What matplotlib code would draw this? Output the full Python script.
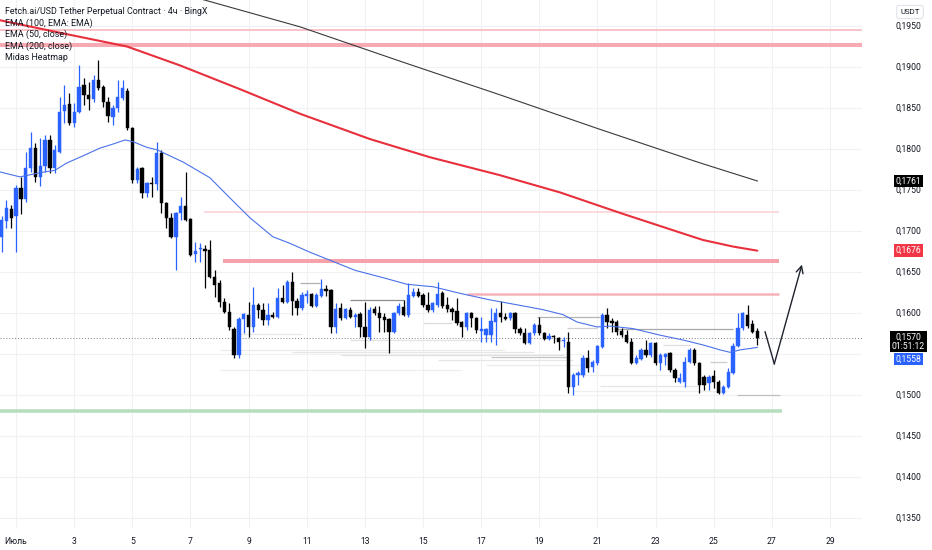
import matplotlib
matplotlib.use("Agg")
import matplotlib.pyplot as plt
from matplotlib.transforms import blended_transform_factory
from matplotlib import font_manager

# ---------------- data (4h candles, first candle = 30 Jun 12:00) ----------------
opens = [.1693, .1712, .1727, .1718, .1752, .1739, .1777, .1801, .1766, .1779,
         .1811, .1777, .1796, .1846, .1855, .1832, .1845, .1878, .1866, .1861,
         .1884, .1876, .1857, .1839, .1850, .1862, .1871, .1826, .1762, .1777,
         .1746, .1759, .1757, .1795, .1734, .1716, .1693, .1722, .1731, .1715,
         .1672, .1678, .1678, .1677, .1644, .1637, .1613, .1601, .1581, .1549,
         .1593, .1598, .1583, .1610, .1604, .1592, .1598, .1595, .1618, .1613,
         .1638, .1615, .1606, .1621, .1623, .1609, .1621, .1629, .1628, .1583,
         .1606, .1594, .1604, .1595, .1599, .1583, .1571, .1605, .1600, .1595,
         .1593, .1577, .1600, .1607, .1598, .1621, .1626, .1622, .1610, .1604,
         .1610, .1624, .1610, .1605, .1602, .1589, .1583, .1600, .1594, .1578,
         .1573, .1573, .1589, .1600, .1595, .1594, .1600, .1581, .1576, .1563,
         .1576, .1585, .1576, .1568, .1572, .1570, .1566, .1565, .1510, .1524,
         .1524, .1545, .1534, .1539, .1559, .1598, .1590, .1589, .1578, .1573,
         .1565, .1539, .1544, .1555, .1549, .1563, .1539, .1546, .1551, .1531,
         .1516, .1516, .1540, .1555, .1539, .1522, .1515, .1523, .1516, .1502,
         .1510, .1527, .1560, .1582, .1598, .1587, .1578]
highs = [.1718, .1738, .1732, .1756, .1766, .1796, .1821, .1807, .1813, .1817,
         .1817, .1805, .1863, .1878, .1868, .1856, .1902, .1887, .1882, .1890,
         .1909, .1878, .1863, .1854, .1884, .1884, .1874, .1827, .1778, .1778,
         .1760, .1766, .1809, .1799, .1735, .1722, .1723, .1742, .1772, .1716,
         .1687, .1685, .1683, .1689, .1652, .1640, .1618, .1612, .1583, .1595,
         .1600, .1613, .1632, .1612, .1612, .1612, .1601, .1631, .1634, .1640,
         .1650, .1618, .1626, .1628, .1624, .1624, .1642, .1634, .1629, .1612,
         .1612, .1606, .1607, .1600, .1601, .1613, .1607, .1609, .1609, .1600,
         .1594, .1601, .1612, .1616, .1637, .1631, .1631, .1624, .1626, .1613,
         .1638, .1627, .1620, .1607, .1618, .1590, .1601, .1601, .1595, .1595,
         .1582, .1606, .1606, .1615, .1600, .1601, .1601, .1583, .1582, .1577,
         .1588, .1595, .1577, .1576, .1573, .1571, .1571, .1577, .1527, .1529,
         .1549, .1555, .1543, .1561, .1600, .1606, .1594, .1592, .1582, .1579,
         .1570, .1549, .1557, .1567, .1565, .1565, .1551, .1551, .1552, .1533,
         .1527, .1546, .1557, .1557, .1540, .1524, .1524, .1531, .1518, .1512,
         .1533, .1563, .1600, .1601, .1610, .1592, .1582]
lows = [.1674, .1704, .1704, .1674, .1721, .1735, .1772, .1760, .1755, .1772,
        .1771, .1771, .1795, .1832, .1829, .1827, .1844, .1854, .1848, .1857,
        .1872, .1851, .1833, .1829, .1845, .1860, .1823, .1759, .1759, .1740,
        .1742, .1742, .1750, .1722, .1704, .1692, .1652, .1713, .1712, .1670,
        .1662, .1662, .1631, .1643, .1620, .1607, .1600, .1579, .1545, .1545,
        .1576, .1571, .1577, .1594, .1585, .1585, .1594, .1594, .1612, .1612,
        .1598, .1598, .1604, .1612, .1607, .1607, .1620, .1621, .1576, .1576,
        .1592, .1593, .1594, .1583, .1571, .1557, .1567, .1598, .1577, .1577,
        .1551, .1576, .1598, .1596, .1595, .1620, .1620, .1607, .1601, .1601,
        .1607, .1606, .1601, .1592, .1585, .1571, .1579, .1583, .1576, .1565,
        .1565, .1565, .1561, .1589, .1592, .1592, .1576, .1573, .1562, .1562,
        .1573, .1573, .1567, .1567, .1563, .1555, .1559, .1502, .1500, .1512,
        .1522, .1528, .1528, .1537, .1557, .1582, .1577, .1573, .1571, .1563,
        .1538, .1538, .1543, .1546, .1546, .1537, .1531, .1537, .1528, .1516,
        .1515, .1510, .1539, .1537, .1502, .1506, .1506, .1509, .1501, .1501,
        .1509, .1526, .1559, .1579, .1582, .1576, .1561]
closes = [.1713, .1728, .1716, .1752, .1739, .1777, .1801, .1766, .1779, .1811,
          .1777, .1799, .1845, .1854, .1832, .1845, .1876, .1866, .1861, .1884,
          .1874, .1857, .1840, .1850, .1863, .1874, .1826, .1762, .1776, .1746,
          .1759, .1757, .1795, .1734, .1716, .1693, .1722, .1731, .1713, .1671,
          .1676, .1679, .1676, .1644, .1634, .1613, .1601, .1583, .1549, .1593,
          .1599, .1583, .1610, .1604, .1592, .1598, .1595, .1618, .1613, .1638,
          .1615, .1606, .1622, .1623, .1609, .1622, .1629, .1627, .1583, .1605,
          .1594, .1605, .1595, .1598, .1583, .1571, .1604, .1600, .1594, .1592,
          .1577, .1600, .1609, .1598, .1622, .1626, .1621, .1610, .1604, .1612,
          .1623, .1609, .1605, .1601, .1588, .1583, .1600, .1594, .1579, .1581,
          .1581, .1590, .1600, .1595, .1593, .1600, .1581, .1576, .1563, .1576,
          .1585, .1576, .1568, .1572, .1571, .1565, .1567, .1510, .1524, .1527,
          .1545, .1533, .1540, .1560, .1598, .1589, .1588, .1577, .1573, .1565,
          .1539, .1545, .1555, .1549, .1563, .1539, .1549, .1550, .1531, .1521,
          .1521, .1540, .1555, .1539, .1512, .1512, .1522, .1516, .1502, .1510,
          .1528, .1560, .1582, .1600, .1584, .1577, .1570]

# moving averages (candle index, price)
ema50_x = [-0.3, 3.8, 7.9, 11.0, 13.5, 16.2, 20.3, 23.0, 25.5, 27.1, 30.0, 32.1, 37.5,
           43.0, 47.2, 51.3, 56.0, 59.5, 63.7, 73.0, 78.8, 83.7, 89.1, 94.6, 100.8,
           106.4, 111.8, 115.9, 118.8, 122.9, 125.6, 130.3, 135.9, 140.7, 144.8,
           148.3, 150.4, 152.4, 156]
ema50_v = [.1772, .1766, .1771, .1774, .1783, .1790, .1801, .1806, .1811, .1809, .1802,
           .1799, .1784, .1765, .1740, .1716, .1693, .1685, .1674, .1652, .1643, .1635,
           .1632, .1624, .1616, .1610, .1604, .1598, .1589, .1583, .1584, .1581, .1573,
           .1567, .1561, .1555, .1552, .1555, .1558]
ema100_x = [-0.3, 13.5, 25.9, 36.8, 49.2, 61.6, 76.1, 88.4, 102.9, 115.3, 127.7, 140.1,
            144.8, 151.0, 156]
ema100_v = [.1957, .1940, .1925, .1902, .1873, .1843, .1812, .1790, .1768, .1747, .1722,
            .1698, .1689, .1681, .1676]
ema200_x = [39.9, 61.6, 82.3, 102.9, 123.5, 144.2, 156]
ema200_v = [.1985, .1949, .1907, .1866, .1824, .1783, .1761]

# Midas heatmap zones: (price, start index, end index)
zone_prices = [.1945, .1927, .1723, .1663, .1623]
zone_start = [-0.31, -0.31, 41.8, 45.7, 96.1]
zone_end = [177.6, 177.6, 160.5, 160.5, 160.5]
support_price = .1480
support_end = 161.1
heat_prices = [.1637, .1616, .1595, .1582, .1581, .1588, .1567, .1546, .1561, .1540,
               .1511, .1500, .1574, .1555, .1552, .1549, .1543, .1536, .1530, .1524, .1505]
heat_start = [61.6, 72, 110.5, 116.7, 127, 87, 72, 101, 136.5, 146.2,
              123.5, 151.8, 49, 45, 60, 70, 90, 100, 45, 118, 118]
heat_end = [65.7, 83, 123.5, 122.9, 151, 93, 99, 117, 142, 149.7,
            144, 160.7, 62, 104, 110, 116, 118, 120, 95, 140, 150]
heat_shade = ['#b0b0b0', '#8c8c8c', '#b5b5b5', '#d0d0d0', '#a8a8a8', '#dddddd', '#e2e2e2',
              '#c4c4c4', '#dddddd', '#cccccc', '#e5e5e5', '#c0c0c0', '#e8e8e8', '#ebebeb',
              '#e6e6e6', '#e0e0e0', '#e6e6e6', '#ececec', '#efefef', '#ececec', '#eeeeee']

last_price = .1570
countdown = '01:51:12'
arrow_x = [157.6, 159.5, 165.2]
arrow_y = [.1577, .1538, .1659]

price_ticks = [.1350, .1400, .1450, .1500, .1550, .1600, .1650, .1700, .1750, .1800,
               .1850, .1900, .1950]
hidden_ticks = [.1550]  # covered by the price tags in the reference
date_days = [1, 3, 5, 7, 9, 11, 13, 15, 17, 19, 21, 23, 25, 27, 29]
date_labels = ['Июль', '3', '5', '7', '9', '11', '13', '15', '17', '19', '21', '23',
               '25', '27', '29']
legend_lines = ['Fetch.ai/USD Tether Perpetual Contract · 4ч · BingX',
                'EMA (100, EMA: EMA)', 'EMA (50, close)', 'EMA (200, close)',
                'Midas Heatmap']

# ---------------- figure ----------------
names = {f.name for f in font_manager.fontManager.ttflist}
narrow = 'Liberation Sans Narrow' if 'Liberation Sans Narrow' in names else 'Roboto'
plt.rcParams['font.family'] = [narrow, 'Noto Sans', 'DejaVu Sans']
FS = 7.0 if narrow == 'Liberation Sans Narrow' else 6.2
W, H = 932, 550
TXT = '#131722'
BLUE = '#2962ff'
fig = plt.figure(figsize=(W / 100, H / 100), dpi=100)
fig.patch.set_facecolor('white')
ax = fig.add_axes([0, 22 / H, 862 / W, 528 / H])
XMIN, XMAX = -0.31, 177.6
YMIN, YMAX = 0.13378, 0.19817
ax.set_xlim(XMIN, XMAX)
ax.set_ylim(YMIN, YMAX)
ax.set_facecolor('white')
for s in ax.spines.values():
    s.set_visible(False)
ax.set_xticks([])
ax.set_yticks([])

# grid
date_pos = [3 + 6 * (d - 1) for d in date_days]
for p in price_ticks:
    ax.axhline(p, color='#f0f1f4', lw=0.8, zorder=0)
for xp in date_pos:
    ax.axvline(xp, color='#f0f1f4', lw=0.8, zorder=0)

# heatmap lines
for p, a, b, c in zip(heat_prices, heat_start, heat_end, heat_shade):
    ax.hlines(p, a, b, color=c, lw=0.9, zorder=1)

# zones
zone_lw = [1.4, 2.9, 1.1, 2.9, 1.8]
zone_col = ['#f9c3c8', '#f7aab1', '#fbd0d5', '#f5a2aa', '#f7b3b9']
for p, a, b, lw, c in zip(zone_prices, zone_start, zone_end, zone_lw, zone_col):
    ax.hlines(p, a, b, color=c, lw=lw, zorder=1)
ax.hlines(support_price, XMIN, support_end, color='#b7dfbf', lw=2.6, zorder=1)

# last price dotted line
ax.axhline(last_price, color='#7a7d85', lw=0.7, ls=(0, (1, 2)), zorder=2)

# EMAs
ax.plot(ema100_x, ema100_v, color='#e8303d', lw=1.5, zorder=3, solid_capstyle='round')
ax.plot(ema200_x, ema200_v, color='#3a3a3a', lw=0.8, zorder=3)
ax.plot(ema50_x, ema50_v, color='#4a72e8', lw=0.8, zorder=5)

# candles
n = len(opens)
idx = list(range(n))
cols = [BLUE if c >= o else '#000000' for o, c in zip(opens, closes)]
ax.vlines(idx, lows, highs, colors=cols, lw=0.9, zorder=4)
bottoms = [min(o, c) for o, c in zip(opens, closes)]
heights = [max(abs(c - o), 0.00013) for o, c in zip(opens, closes)]
ax.bar(idx, heights, bottom=bottoms, width=0.68, color=cols, edgecolor=cols,
       linewidth=0.3, zorder=4)

# projection arrow
ax.plot(arrow_x[:2], arrow_y[:2], color='#1e222d', lw=1.0, zorder=6)
ax.annotate('', xy=(arrow_x[2], arrow_y[2]), xytext=(arrow_x[1], arrow_y[1]),
            arrowprops=dict(arrowstyle='->,head_length=0.5,head_width=0.25',
                            color='#1e222d', lw=1.0, shrinkA=0, shrinkB=0), zorder=6)

# legend text
for k, t in enumerate(legend_lines):
    ax.text(5 / 862, 1 - (11.5 + 11.5 * k) / 528, t, transform=ax.transAxes,
            fontsize=FS + 0.2, color=TXT, va='center', ha='left', zorder=10)

# date labels
trans = blended_transform_factory(ax.transData, ax.transAxes)
for xp, lab in zip(date_pos, date_labels):
    ax.text(xp, -13 / 528, lab, transform=trans, ha='center', va='center',
            fontsize=FS, color=TXT, clip_on=False)

# price scale
axr = fig.add_axes([862 / W, 22 / H, 70 / W, 528 / H])
axr.set_xlim(0, 70)
axr.set_ylim(YMIN, YMAX)
axr.axis('off')
for p in price_ticks:
    if p in hidden_ticks:
        continue
    axr.text(46.5, p, ('%.4f' % p).replace('.', ','), ha='center', va='center',
             fontsize=FS, color=TXT)


def fmt(v):
    return ('%.4f' % v).replace('.', ',')


def tag(y, txt, fc):
    axr.text(46.5, y, txt, ha='center', va='center', fontsize=FS, color='white',
             zorder=10, linespacing=1.0,
             bbox=dict(boxstyle='square,pad=0.2', fc=fc, ec='none'))


px = (YMAX - YMIN) / 528.0  # price per pixel, used only to stack the price tags
tag(ema200_v[-1], fmt(ema200_v[-1]), '#000000')
tag(ema100_v[-1], fmt(ema100_v[-1]), '#f23645')
tag(last_price - 4.0 * px, fmt(last_price) + '\n' + countdown, '#000000')
tag(last_price - 21.5 * px, fmt(ema50_v[-1]), BLUE)

fig.text(910 / W, 1 - 12 / H, 'USDT', ha='center', va='center', fontsize=FS - 0.5,
         color=TXT,
         bbox=dict(boxstyle='round,pad=0.45,rounding_size=0.3', fc='white', ec='#e0e3eb',
                   lw=0.8))

fig.savefig('out.png', dpi=100, facecolor='white')
